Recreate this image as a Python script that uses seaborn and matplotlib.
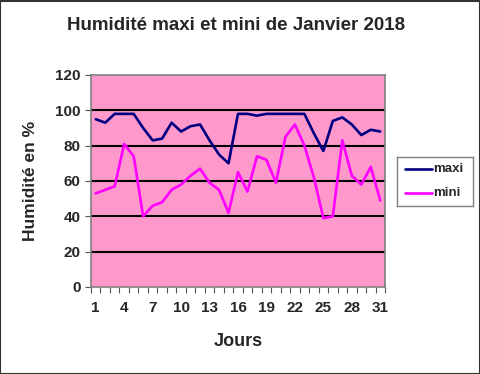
import seaborn as sns
import matplotlib.pyplot as plt
import pandas as pd
from matplotlib.patches import Rectangle

jours = list(range(1, 32))
maxi = [95, 93, 98, 98, 98, 90, 83, 84, 93, 88, 91, 92, 83, 75, 70, 98,
        98, 97, 98, 98, 98, 98, 98, 87, 77, 94, 96, 92, 86, 89, 88]
mini = [53, 55, 57, 81, 74, 40, 46, 48, 55, 58, 63, 67, 59, 55, 42, 65,
        54, 74, 72, 59, 85, 92, 80, 62, 39, 40, 83, 63, 58, 68, 49]

df = pd.DataFrame({'jour': jours * 2,
                   'val': maxi + mini,
                   'serie': ['maxi'] * 31 + ['mini'] * 31})

sns.set_style('white')
plt.rcParams['font.family'] = ['Liberation Sans', 'DejaVu Sans']

fig = plt.figure(figsize=(4.81, 3.74), dpi=100)
ax = fig.add_axes([91 / 481, 1 - 287 / 374, 294 / 481, 212 / 374])
ax.set_facecolor('#FF99CC')

sns.lineplot(data=df, x='jour', y='val', hue='serie',
             palette={'maxi': '#000080', 'mini': '#FF00FF'},
             linewidth=1.9, ax=ax, legend=False, zorder=3)

for v in range(20, 120, 20):
    ax.axhline(v, color='black', linewidth=1.5, zorder=2)

ax.set_xlim(0.5, 31.5)
ax.set_ylim(0, 120)
ax.set_yticks(range(0, 121, 20))
ax.set_xticks(range(1, 32, 3))
ax.set_xticks([x + 0.5 for x in range(0, 32)], minor=True)
ax.tick_params(axis='x', which='major', length=0, pad=10, labelsize=11)
ax.tick_params(axis='x', which='minor', length=4, width=0.8, color='#555555', direction='out', bottom=True)
ax.tick_params(axis='y', length=4, width=0.8, color='#555555', direction='out', left=True, labelsize=11)
for lbl in ax.get_xticklabels() + ax.get_yticklabels():
    lbl.set_fontweight('bold')

for s in ax.spines.values():
    s.set_color('#808080')
    s.set_linewidth(1.2)

ax.set_xlabel('Jours', fontsize=13, fontweight='bold', labelpad=13)
ax.set_ylabel('Humidité en %', fontsize=12.5, fontweight='bold', labelpad=12)
fig.text(236 / 481, 1 - 25 / 374, 'Humidité maxi et mini de Janvier 2018',
         ha='center', va='center', fontsize=13.5, fontweight='bold')

# légende à droite
lax = fig.add_axes([397 / 481, 1 - 206 / 374, 76 / 481, 49 / 374])
lax.set_xlim(0, 76)
lax.set_ylim(206, 157)
lax.set_xticks([])
lax.set_yticks([])
for s in lax.spines.values():
    s.set_color('#808080')
    s.set_linewidth(1)
lax.plot([8, 35], [169, 169], color='#000080', linewidth=1.9)
lax.plot([8, 35], [193, 193], color='#FF00FF', linewidth=1.9)
lax.text(36, 169, 'maxi', va='center', fontsize=9.5, fontweight='bold')
lax.text(36, 193, 'mini', va='center', fontsize=9.5, fontweight='bold')

fig.patches.append(Rectangle((0.001, 0.001), 0.997, 0.996, transform=fig.transFigure,
                             fill=False, edgecolor='#333333', linewidth=1.5))

fig.savefig('out.png', dpi=100)
